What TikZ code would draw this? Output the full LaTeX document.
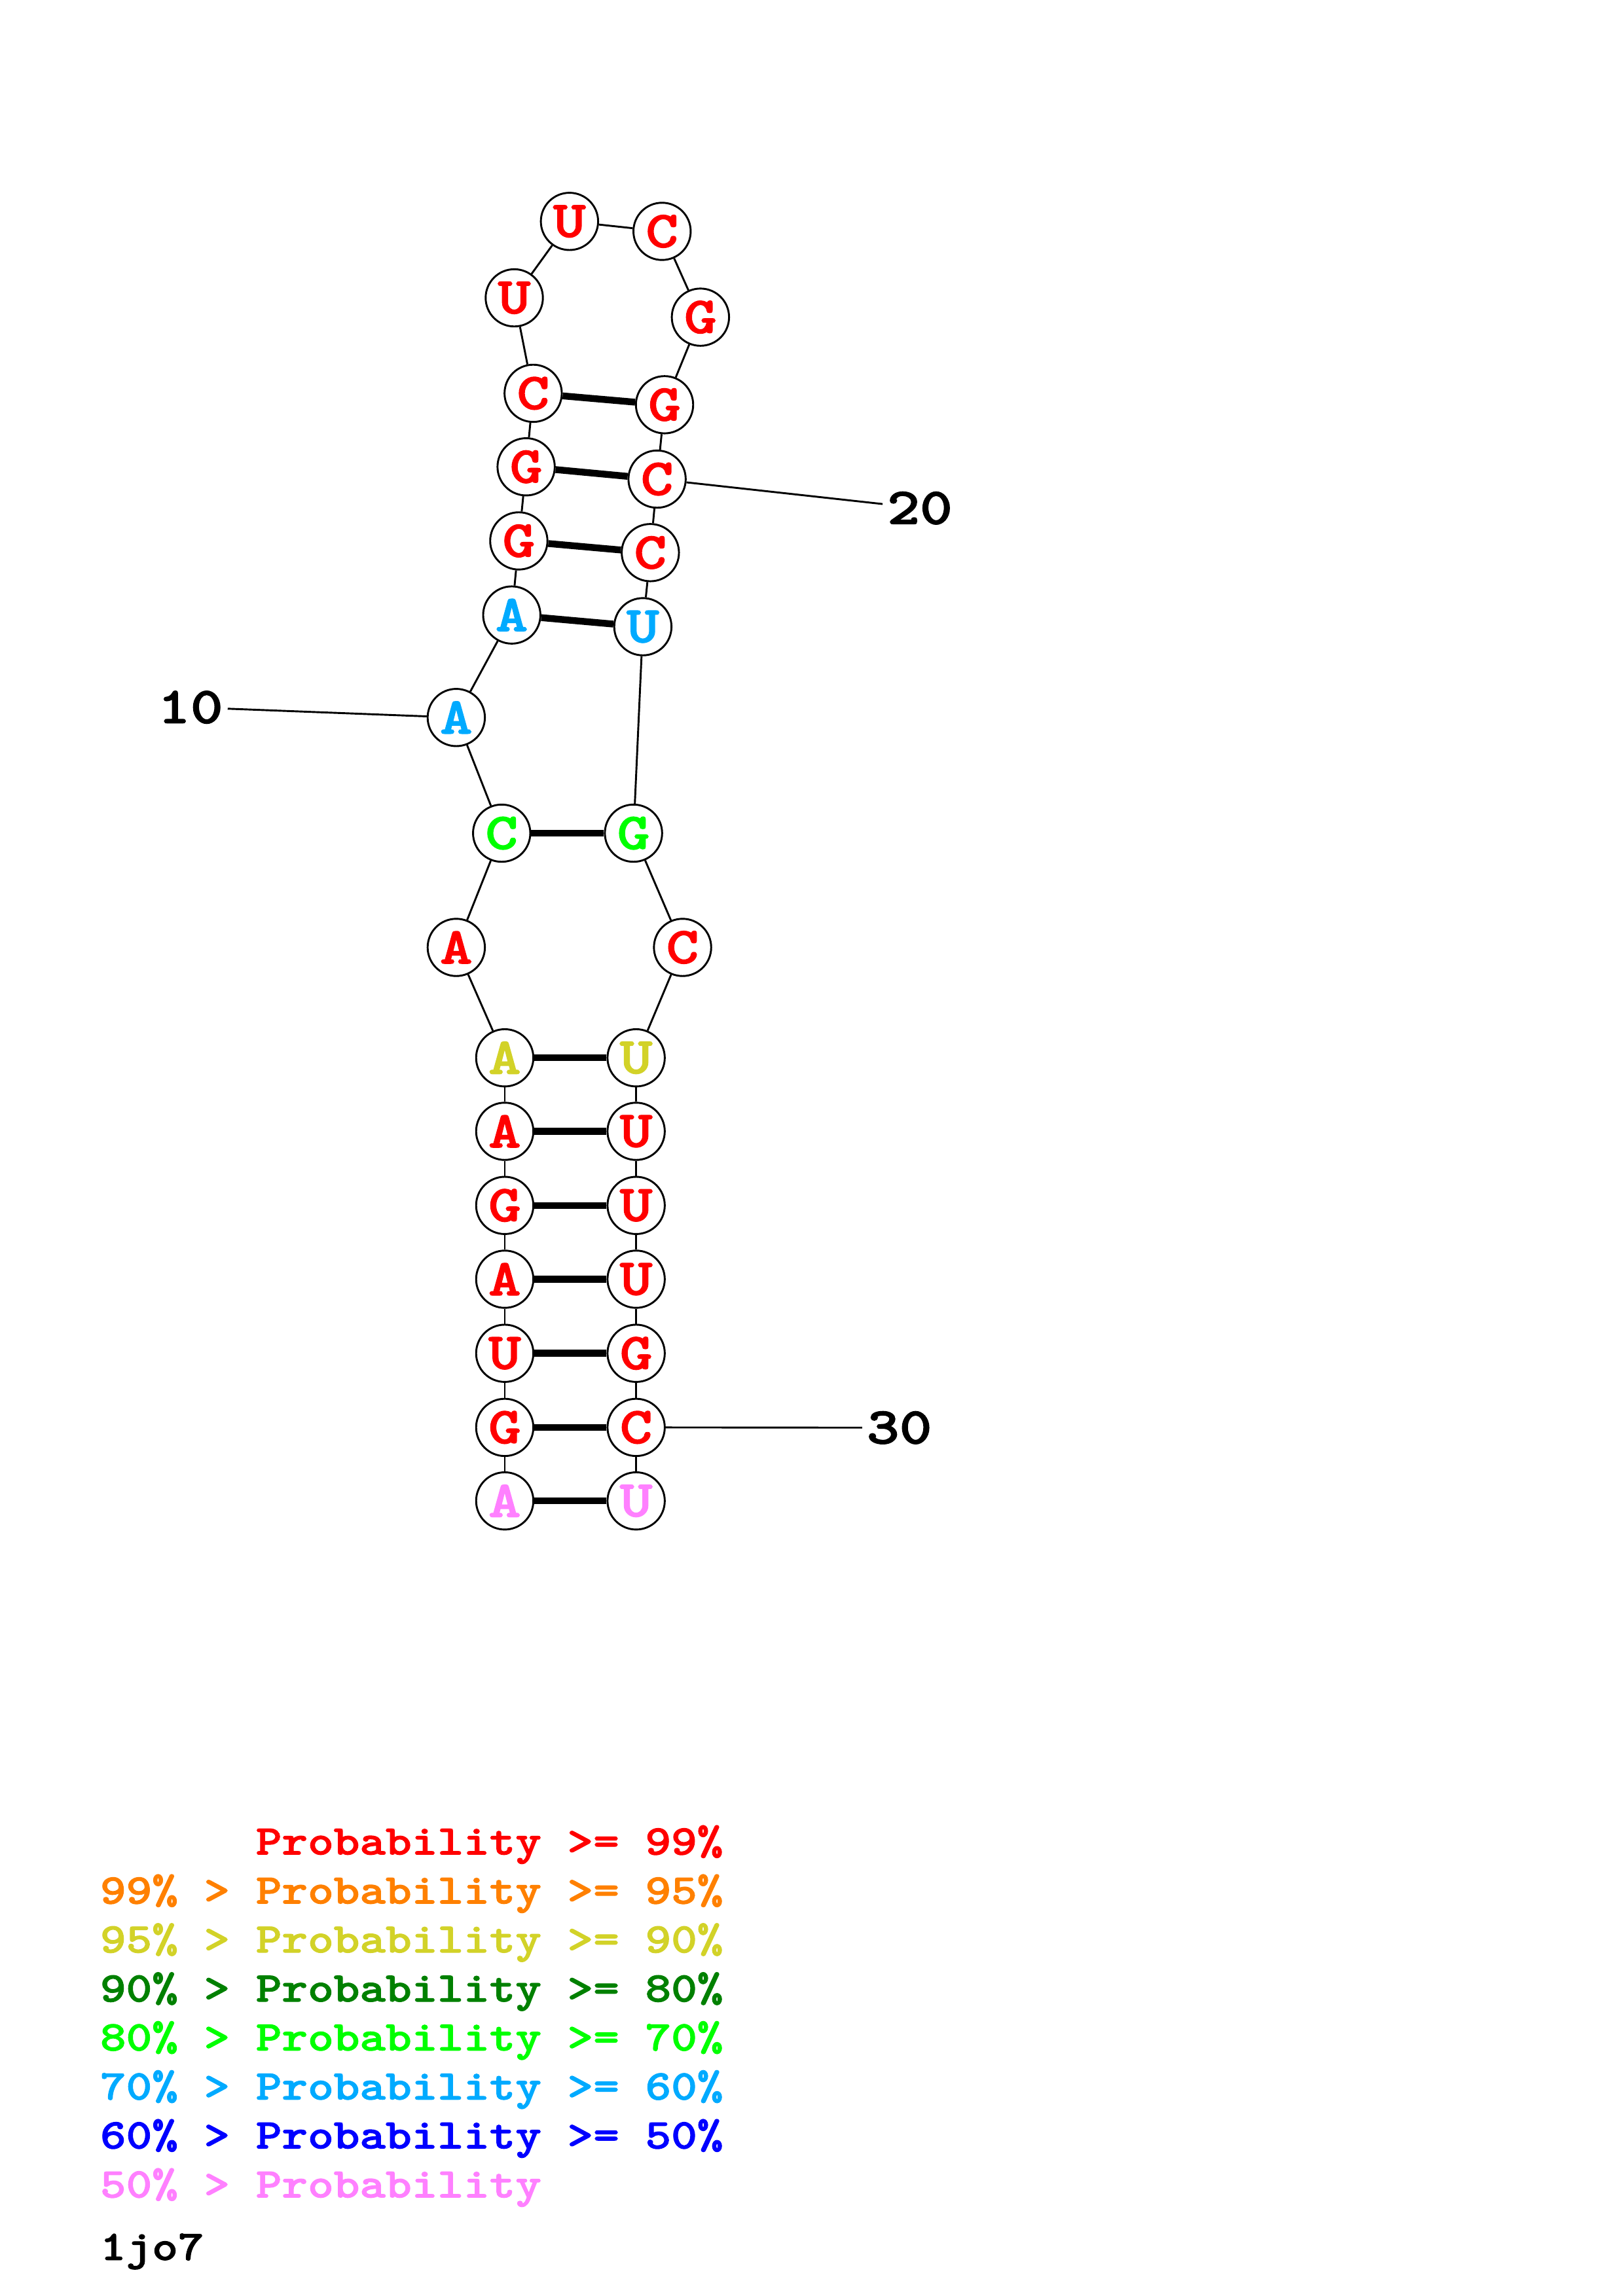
\documentclass[tikz,border=0pt]{standalone}
\usepackage{fontspec}
\usepackage{graphicx}
\newfontfamily\cour{lmmonolt10-bold.otf}[FakeBold=1.5]
\definecolor{pr}{RGB}{255,0,0}
\definecolor{po}{RGB}{255,128,0}
\definecolor{py}{RGB}{210,210,40}
\definecolor{pdg}{RGB}{0,128,0}
\definecolor{pg}{RGB}{0,255,0}
\definecolor{plb}{RGB}{0,170,255}
\definecolor{pb}{RGB}{0,0,255}
\definecolor{pp}{RGB}{255,128,255}
\newcommand{\sx}[1]{\scalebox{1.2}[1]{#1}}
\newcommand{\lgt}[1]{\scalebox{1.17}[1]{\fontsize{15.5}{15.5}\selectfont\cour #1}}
\begin{document}
\begin{tikzpicture}[x=0.53726pt,y=-0.53726pt,
  base/.style={circle,draw=black,line width=0.7pt,fill=white,minimum size=21pt,inner sep=0pt,
    font=\fontsize{19}{19}\selectfont\cour},
  bb/.style={line width=0.7pt},
  bp/.style={line width=2.5pt},
  lbl/.style={inner sep=1.5pt,font=\fontsize{19}{19}\selectfont\cour},
  leg/.style={anchor=base west,inner sep=0pt}]
\useasboundingbox (0,0) rectangle (1108,1568);
% nucleotides
\node[base,text=pp]  (n1)  at (344.6,1025.0) {\sx{A}};
\node[base,text=pr]  (n2)  at (344.6,974.8) {\sx{G}};
\node[base,text=pr]  (n3)  at (344.6,924.2) {\sx{U}};
\node[base,text=pr]  (n4)  at (344.6,873.6) {\sx{A}};
\node[base,text=pr]  (n5)  at (344.6,823.2) {\sx{G}};
\node[base,text=pr]  (n6)  at (344.6,772.6) {\sx{A}};
\node[base,text=py]  (n7)  at (344.6,722.4) {\sx{A}};
\node[base,text=pr]  (n8)  at (311.5,647.0) {\sx{A}};
\node[base,text=pg]  (n9)  at (342.5,569.0) {\sx{C}};
\node[base,text=plb] (n10) at (311.5,490.0) {\sx{A}};
\node[base,text=plb] (n11) at (349.4,420.0) {\sx{A}};
\node[base,text=pr]  (n12) at (354.2,369.4) {\sx{G}};
\node[base,text=pr]  (n13) at (359.2,318.8) {\sx{G}};
\node[base,text=pr]  (n14) at (364.0,268.6) {\sx{C}};
\node[base,text=pr]  (n15) at (351.1,203.4) {\sx{U}};
\node[base,text=pr]  (n16) at (388.8,151.2) {\sx{U}};
\node[base,text=pr]  (n17) at (452.0,158.0) {\sx{C}};
\node[base,text=pr]  (n18) at (478.2,216.6) {\sx{G}};
\node[base,text=pr]  (n19) at (453.7,276.4) {\sx{G}};
\node[base,text=pr]  (n20) at (448.6,327.2) {\sx{C}};
\node[base,text=pr]  (n21) at (444.0,377.4) {\sx{C}};
\node[base,text=plb] (n22) at (438.9,428.0) {\sx{U}};
\node[base,text=pg]  (n23) at (432.5,569.0) {\sx{G}};
\node[base,text=pr]  (n24) at (466.0,647.0) {\sx{C}};
\node[base,text=py]  (n25) at (434.3,722.4) {\sx{U}};
\node[base,text=pr]  (n26) at (434.3,772.6) {\sx{U}};
\node[base,text=pr]  (n27) at (434.3,823.2) {\sx{U}};
\node[base,text=pr]  (n28) at (434.3,873.6) {\sx{U}};
\node[base,text=pr]  (n29) at (434.3,924.2) {\sx{G}};
\node[base,text=pr]  (n30) at (434.3,974.8) {\sx{C}};
\node[base,text=pp]  (n31) at (434.3,1025.0) {\sx{U}};
% backbone
\foreach \i [evaluate=\i as \j using int(\i+1)] in {1,...,30} {
  \draw[bb] (n\i) -- (n\j);
}
% base pairs
\foreach \a/\b in {1/31,2/30,3/29,4/28,5/27,6/26,7/25,9/23,11/22,12/21,13/20,14/19} {
  \draw[bp] (n\a) -- (n\b);
}
% numbering
\node[lbl] (l10) at (130,483) {\sx{10}};
\node[lbl] (l20) at (628,347) {\sx{20}};
\node[lbl] (l30) at (614,975) {\sx{30}};
\draw[bb] (n10) -- (l10);
\draw[bb] (n20) -- (l20);
\draw[bb] (n30) -- (l30);
% legend
\node[leg,text=pr]  (g1) at (68,1266.5) {\lgt{\hphantom{99\% > }Probability >= 99\%}};
\node[leg,text=po]  (g2) at (68,1300.0) {\lgt{99\% > Probability >= 95\%}};
\node[leg,text=py]  (g3) at (68,1333.4) {\lgt{95\% > Probability >= 90\%}};
\node[leg,text=pdg] (g4) at (68,1366.9) {\lgt{90\% > Probability >= 80\%}};
\node[leg,text=pg]  (g5) at (68,1400.3) {\lgt{80\% > Probability >= 70\%}};
\node[leg,text=plb] (g6) at (68,1433.8) {\lgt{70\% > Probability >= 60\%}};
\node[leg,text=pb]  (g7) at (68,1467.2) {\lgt{60\% > Probability >= 50\%}};
\node[leg,text=pp]  (g8) at (68,1500.7) {\lgt{50\% > Probability}};
\node[leg,text=black] (g9) at (68,1543.4) {\lgt{1jo7}};
\end{tikzpicture}
\end{document}
